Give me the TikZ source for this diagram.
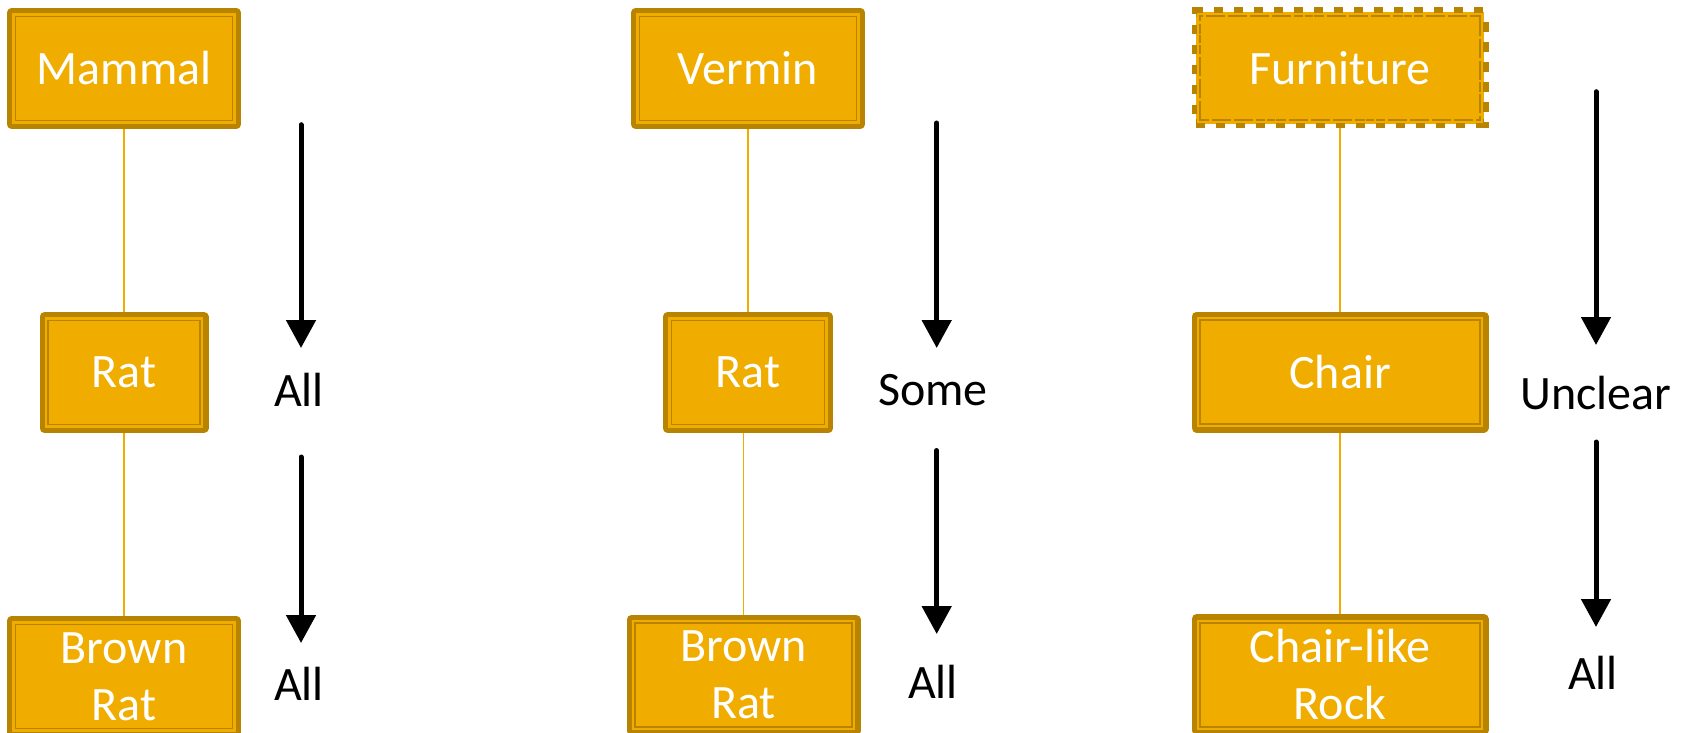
\documentclass[tikz,border=0pt]{standalone}
\usepackage{fontspec}
\setmainfont{Carlito}
\usepackage{xcolor}
\definecolor{catfill}{HTML}{F0AD00}
\definecolor{catline}{HTML}{B88400}
\usetikzlibrary{arrows.meta, positioning}

\begin{document}
\begin{tikzpicture}[
        x=0.5pt, y=0.5pt,
        cat_node/.style={rectangle, fill=catfill, draw=catline, line width=4.65pt, line join=round, inner sep=0pt, minimum width=112.35pt, minimum height=55.85pt, text=white, align=center, font=\fontsize{24}{28.5}\selectfont},
        vague_node/.style={cat_node, dash pattern=on 4.65pt off 5.35pt, line join=miter},
        gold_rule/.style={draw=catfill, line width=1.15pt},
        dark_rule/.style={draw=catline, line width=0.85pt},
        link/.style={draw=catfill, line width=0.7pt},
        tag/.style={inner sep=0pt, font=\fontsize{24}{28.5}\selectfont},
        arrow/.style={-{Triangle[width=14.5pt, length=14pt]}, line width=2.5pt, line cap=round}
    ]
    \useasboundingbox (0,0) rectangle (1686,-733);

    % Mammal column
    \node[cat_node] (mammal) at (124,-68.5) {Mammal};
    \node[cat_node, minimum width=79.85pt, below=91.5pt of mammal] (rat1) {Rat};
    \node[cat_node, below=91.5pt of rat1] (brown1) {Brown\\Rat};

    % Vermin column
    \node[cat_node] (vermin) at (748,-68.5) {Vermin};
    \node[cat_node, minimum width=80.35pt, below=91.5pt of vermin] (rat2) {Rat};
    \node[cat_node, below=90.85pt of rat2, xshift=-2.15pt] (brown2) {Brown\\Rat};

    % Furniture column
    \node[vague_node, minimum width=143.85pt] (furniture) at (1340,-68) {Furniture};
    \node[cat_node, minimum width=143.85pt, below=91.5pt of furniture] (chair) {Chair};
    \node[cat_node, minimum width=143.85pt, below=90.85pt of chair] (rock) {Chair-like\\Rock};

    % inner rules of the framed boxes
    \foreach \n in {mammal, rat1, brown1, vermin, rat2, brown2, chair, rock}
        \draw[gold_rule] ([shift={(3.23pt,3.23pt)}]\n.south west) rectangle ([shift={(-3.23pt,-3.23pt)}]\n.north east);
    \draw[gold_rule] ([shift={(3.23pt,3.23pt)}]furniture.south west) rectangle ([shift={(-3.23pt,-3.23pt)}]furniture.north east);
    \draw[dark_rule, dash pattern=on 4pt off 1.5pt] ([shift={(4.23pt,4.23pt)}]furniture.south west) rectangle ([shift={(-4.23pt,-4.23pt)}]furniture.north east);

    % Links
    \draw[link] (mammal) -- (rat1);
    \draw[link] (rat1) -- (brown1);
    \draw[link] (vermin) -- (rat2);
    \draw[link] (rat2.south -| brown2.north) -- (brown2);
    \draw[link] (furniture) -- (chair);
    \draw[link] (chair) -- (rock);

    % Labels
    \node[tag] (all1) at (299,-390) {All};
    \node[tag] (all2) at (299,-684) {All};
    \node[tag] (some) at (933,-390) {Some};
    \node[tag] (all3) at (933,-682) {All};
    \node[tag] (unclear) at (1596,-393) {Unclear};
    \node[tag] (all4) at (1593,-673) {All};

    % Arrow ends
    \coordinate (m1) at (301,-124.7);
    \coordinate (m2) at (301,-348);
    \coordinate (m3) at (301,-457);
    \coordinate (m4) at (301,-643);
    \coordinate (v1) at (936.7,-123);
    \coordinate (v2) at (936.7,-348);
    \coordinate (v3) at (936.7,-450.5);
    \coordinate (v4) at (936.7,-634);
    \coordinate (f1) at (1596,-91.7);
    \coordinate (f2) at (1596,-345);
    \coordinate (f3) at (1596,-442);
    \coordinate (f4) at (1596,-627);

    \draw[arrow] (m1) -- (m2);
    \draw[arrow] (m3) -- (m4);
    \draw[arrow] (v1) -- (v2);
    \draw[arrow] (v3) -- (v4);
    \draw[arrow] (f1) -- (f2);
    \draw[arrow] (f3) -- (f4);

\end{tikzpicture}
\end{document}
